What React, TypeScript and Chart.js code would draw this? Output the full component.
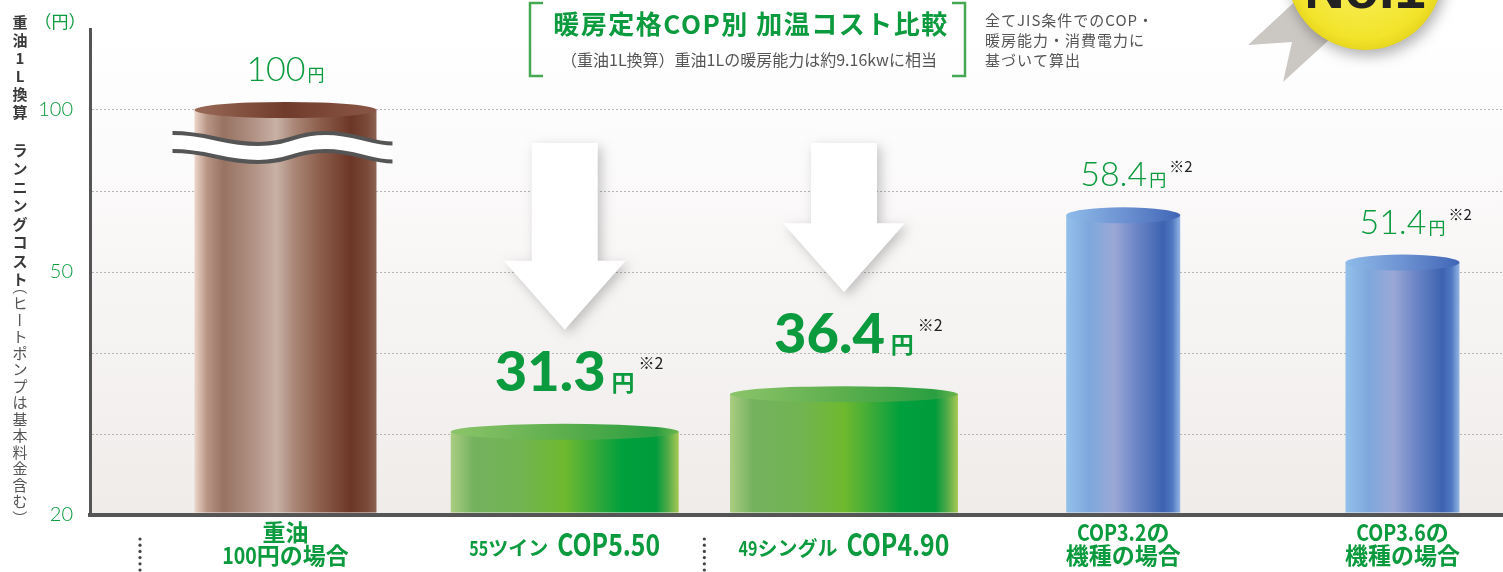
import React, { useEffect, useRef } from 'react';
import { Chart, LinearScale, registerables } from 'chart.js';

// ---------------- data ----------------
const categories = ['重油\n100円の場合', '55ツイン COP5.50', '49シングル COP4.90', 'COP3.2の\n機種の場合', 'COP3.6の\n機種の場合'];
const costs = [100, 31.3, 36.4, 58.4, 51.4];
const costNotes = ['', '※2', '※2', '※2', '※2'];
const yGridValues = [20, 31, 42, 50, 62, 100, 125];
const yTickLabels = ['20', '', '', '50', '', '100', ''];
const unitText = '円';
const yUnitLabel = '（円）';
const titleText = '暖房定格COP別 加温コスト比較';
const subtitleText = '（重油1L換算）重油1Lの暖房能力は約9.16kwに相当';
const noteLines = ['全てJIS条件でのCOP・', '暖房能力・消費電力に', '基づいて算出'];
const yTitleParts = ['重油1L換算', 'ランニングコスト', '（ヒートポンプは基本料金含む）'];
const badgeText = 'No.1';

// ---------------- styles ----------------
const GREEN = '#0b9a3d';
const JP = '"Noto Sans CJK JP"';
const barWidths = [182, 228, 228, 114, 114];
const barKinds = ['brown', 'green', 'green', 'blue', 'blue'];
const emphasis = [false, true, true, false, false];
const withArrow = [false, true, true, false, false];
const withBreak = [true, false, false, false, false];
const X_MIN = -0.7;
const X_MAX = 4.36;

const BODY: Record<string, [number, string][]> = {
  brown: [[0, '#ecd6ca'], [0.07, '#b79484'], [0.16, '#987263'], [0.3, '#ad8d7e'], [0.45, '#c8b1a5'], [0.55, '#a98676'], [0.7, '#8b5b49'], [0.86, '#6c3627'], [0.95, '#7b4b3a'], [1, '#8c6351']],
  green: [[0, '#aacd82'], [0.1, '#74b25e'], [0.3, '#71b453'], [0.5, '#6fb92f'], [0.65, '#2fa83a'], [0.75, '#00a03d'], [0.9, '#009b3c'], [0.95, '#4ea947'], [1, '#a8c955']],
  blue: [[0, '#93c0ea'], [0.2, '#7ea8dc'], [0.42, '#9aa8d6'], [0.6, '#6f88c8'], [0.85, '#3d63b0'], [0.93, '#5078c0'], [1, '#93b5e4']],
};
const CAP: Record<string, [number, string][]> = {
  brown: [[0, '#9a6a58'], [0.5, '#703b2b'], [1, '#8a5646']],
  green: [[0, '#8cc46a'], [0.5, '#5cae4c'], [0.9, '#2a9f42'], [1, '#6fb64e']],
  blue: [[0, '#8dbbe9'], [0.5, '#6e92d2'], [1, '#3f66b6']],
};

class SteppedScale extends LinearScale {
  static id = 'stepped';
  static defaults = LinearScale.defaults;
  getPixelForValue(value: number) {
    const k = yGridValues;
    const n = k.length - 1;
    let f: number;
    if (value <= k[0]) f = (value - k[0]) / (k[1] - k[0]);
    else if (value >= k[n]) f = n + (value - k[n]) / (k[n] - k[n - 1]);
    else {
      let i = 0;
      while (value > k[i + 1]) i++;
      f = i + (value - k[i]) / (k[i + 1] - k[i]);
    }
    return (this as any).getPixelForDecimal(f / n);
  }
  getValueForPixel(pixel: number) {
    const k = yGridValues;
    const n = k.length - 1;
    const f = (this as any).getDecimalForPixel(pixel) * n;
    const i = Math.max(0, Math.min(n - 1, Math.floor(f)));
    return k[i] + (f - i) * (k[i + 1] - k[i]);
  }
}

Chart.register(...registerables, SteppedScale as any);

function hGrad(ctx: CanvasRenderingContext2D, l: number, r: number, stops: [number, string][]) {
  const g = ctx.createLinearGradient(l, 0, r, 0);
  stops.forEach(([o, c]) => g.addColorStop(o, c));
  return g;
}

function drawCylinder(ctx: CanvasRenderingContext2D, x: number, top: number, base: number, w: number, kind: string) {
  const l = x - w / 2;
  const r = x + w / 2;
  ctx.fillStyle = hGrad(ctx, l, r, BODY[kind]);
  ctx.fillRect(l, top, w, base - top);
  ctx.fillStyle = hGrad(ctx, l, r, CAP[kind]);
  ctx.beginPath();
  ctx.ellipse(x, top, w / 2, 8, 0, 0, Math.PI * 2);
  ctx.fill();
}

function drawBreak(ctx: CanvasRenderingContext2D, cx: number, top: number) {
  const path = (dy: number, reverse: boolean) => {
    const p: [number, number][] = [[-113, 23], [-75, 23], [-65, 34], [-27, 34], [5, 34], [8, 23], [40, 23], [70, 23], [85, 33.5], [107, 33.5]];
    const pts = p.map(([a, b]) => [cx + a, top + b + dy] as [number, number]);
    const seq = reverse ? pts.slice().reverse() : pts;
    if (!reverse) ctx.moveTo(seq[0][0], seq[0][1]);
    else ctx.lineTo(seq[0][0], seq[0][1]);
    for (let i = 1; i < seq.length; i += 3) ctx.bezierCurveTo(seq[i][0], seq[i][1], seq[i + 1][0], seq[i + 1][1], seq[i + 2][0], seq[i + 2][1]);
  };
  ctx.fillStyle = '#ffffff';
  ctx.beginPath();
  path(0, false);
  path(18, true);
  ctx.closePath();
  ctx.fill();
  ctx.strokeStyle = '#555';
  ctx.lineWidth = 4;
  ctx.beginPath();
  path(0, false);
  ctx.stroke();
  ctx.beginPath();
  path(18, false);
  ctx.stroke();
}

function drawArrow(ctx: CanvasRenderingContext2D, cx: number, shaftTop: number, tipY: number) {
  const headTop = tipY - 69;
  ctx.save();
  ctx.shadowColor = 'rgba(0,0,0,0.22)';
  ctx.shadowBlur = 12;
  ctx.shadowOffsetX = 4;
  ctx.shadowOffsetY = 4;
  ctx.fillStyle = '#ffffff';
  ctx.beginPath();
  ctx.moveTo(cx - 33, shaftTop);
  ctx.lineTo(cx + 33, shaftTop);
  ctx.lineTo(cx + 33, headTop);
  ctx.lineTo(cx + 61, headTop);
  ctx.lineTo(cx, tipY);
  ctx.lineTo(cx - 61, headTop);
  ctx.lineTo(cx - 33, headTop);
  ctx.closePath();
  ctx.fill();
  ctx.restore();
}

function drawValueLabel(ctx: CanvasRenderingContext2D, x: number, top: number, value: number, note: string, emph: boolean) {
  const num = String(value);
  const numFont = emph ? '900 56px Lato' : '300 34px Lato';
  const unitFont = emph ? `700 23px ${JP}` : `400 17px ${JP}`;
  const gap = emph ? 6 : 2;
  const baseline = top - (emph ? 41 : 29);
  ctx.textAlign = 'left';
  ctx.textBaseline = 'alphabetic';
  ctx.font = numFont;
  const nw = ctx.measureText(num).width;
  ctx.font = unitFont;
  const uw = ctx.measureText(unitText).width;
  const total = nw + gap + uw;
  const sx = x - total / 2;
  ctx.fillStyle = GREEN;
  ctx.font = numFont;
  ctx.fillText(num, sx, baseline);
  ctx.font = unitFont;
  ctx.fillText(unitText, sx + nw + gap, baseline);
  if (note) {
    ctx.fillStyle = '#222';
    ctx.font = `400 ${emph ? 16 : 15}px ${JP}`;
    ctx.fillText(note, sx + total + (emph ? 4 : 3), baseline - (emph ? 22 : 14));
  }
}

type Piece = { text: string; size: number; latin: boolean; gapBefore: number };
function drawRich(ctx: CanvasRenderingContext2D, segs: { text: string; size: number }[], cx: number, baseline: number, gapBetween: number, sc: number) {
  const pieces: Piece[] = [];
  segs.forEach((s, si) => {
    let cur = '';
    let curLatin: boolean | null = null;
    let first = true;
    for (const ch of s.text) {
      const latin = ch.charCodeAt(0) < 0x2000;
      if (curLatin !== null && latin !== curLatin) {
        pieces.push({ text: cur, size: s.size, latin: curLatin, gapBefore: first && si > 0 ? gapBetween : 0 });
        first = false;
        cur = '';
      }
      cur += ch;
      curLatin = latin;
    }
    if (cur) pieces.push({ text: cur, size: s.size, latin: !!curLatin, gapBefore: first && si > 0 ? gapBetween : 0 });
  });
  const widths = pieces.map((p) => {
    ctx.font = `700 ${p.size}px ${JP}`;
    return ctx.measureText(p.text).width * (p.latin ? sc : 1);
  });
  const total = widths.reduce((a, b) => a + b, 0) + pieces.reduce((a, p) => a + p.gapBefore, 0);
  let px = cx - total / 2;
  ctx.fillStyle = GREEN;
  ctx.textAlign = 'left';
  ctx.textBaseline = 'alphabetic';
  pieces.forEach((p, i) => {
    px += p.gapBefore;
    ctx.font = `700 ${p.size}px ${JP}`;
    ctx.save();
    ctx.translate(px, baseline);
    ctx.scale(p.latin ? sc : 1, 1);
    ctx.fillText(p.text, 0, 0);
    ctx.restore();
    px += widths[i];
  });
}

const decorPlugin = {
  id: 'decor',
  beforeDraw(chart: any) {
    const { ctx, chartArea: a } = chart;
    const g = ctx.createLinearGradient(0, a.top, 0, a.bottom);
    g.addColorStop(0, '#ffffff');
    g.addColorStop(0.2, '#fdfcfc');
    g.addColorStop(1, '#efecea');
    ctx.save();
    ctx.fillStyle = g;
    ctx.fillRect(a.left, a.top, a.right - a.left, a.bottom - a.top);
    ctx.restore();
  },
  afterDatasetsDraw(chart: any) {
    const { ctx, chartArea: a } = chart;
    ctx.save();
    const bars: { x: number; y: number; base: number; width: number }[] = [];
    costs.forEach((_, i) => {
      const el = chart.getDatasetMeta(i).data[0];
      const p = el.getProps(['x', 'y', 'base', 'width'], true);
      bars.push(p);
      drawCylinder(ctx, p.x, p.y, Math.min(p.base, a.bottom) - 2, p.width, barKinds[i]);
    });
    bars.forEach((p, i) => {
      if (withBreak[i]) drawBreak(ctx, p.x, p.y);
    });
    bars.forEach((p, i) => {
      if (withArrow[i]) drawArrow(ctx, p.x, a.top + 114, p.y - 102);
    });
    bars.forEach((p, i) => drawValueLabel(ctx, p.x, p.y, costs[i], costNotes[i], emphasis[i]));
    ctx.restore();
  },
  afterDraw(chart: any) {
    const { ctx, chartArea: a, scales } = chart;
    ctx.save();
    // x labels
    categories.forEach((label, i) => {
      const cx = scales.x.getPixelForValue(i);
      const lines = label.split('\n');
      if (lines.length > 1) {
        drawRich(ctx, [{ text: lines[0], size: 23 }], cx, a.bottom + 26, 0, 0.85);
        drawRich(ctx, [{ text: lines[1], size: 23 }], cx, a.bottom + 49, 0, 0.85);
      } else {
        const sp = label.indexOf(' ');
        drawRich(ctx, [{ text: label.slice(0, sp), size: 20 }, { text: label.slice(sp + 1), size: 31 }], cx, a.bottom + 41, 9, 0.8);
      }
    });
    // separators
    const seps = [a.left + 50, (scales.x.getPixelForValue(1) + scales.x.getPixelForValue(2)) / 2];
    ctx.fillStyle = '#444';
    seps.forEach((sx) => {
      for (let y = a.bottom + 24; y < chart.height; y += 6.2) {
        ctx.beginPath();
        ctx.arc(sx, y, 1.6, 0, Math.PI * 2);
        ctx.fill();
      }
    });
    // y unit
    ctx.fillStyle = GREEN;
    ctx.font = `400 17px ${JP}`;
    ctx.textAlign = 'center';
    ctx.textBaseline = 'middle';
    ctx.fillText(yUnitLabel, 60, 22);
    // y title (vertical)
    const layout = [
      { start: 22, step: 18, font: `700 15px ${JP}`, color: '#3a3a3a' },
      { start: 150, step: 18.5, font: `700 15px ${JP}`, color: '#3a3a3a' },
      { start: 287, step: 16.5, font: `400 15px ${JP}`, color: '#555' },
    ];
    yTitleParts.forEach((part, pi) => {
      const L = layout[pi];
      ctx.font = L.font;
      ctx.fillStyle = L.color;
      Array.from(part).forEach((ch, ci) => {
        const y = L.start + ci * L.step;
        ctx.save();
        ctx.translate(20, y);
        if ('（）ー'.includes(ch)) ctx.rotate(Math.PI / 2);
        ctx.fillText(ch, 0, 0);
        ctx.restore();
      });
    });
    // title box
    ctx.strokeStyle = '#45a853';
    ctx.lineWidth = 2.5;
    ctx.beginPath();
    ctx.moveTo(543, 3);
    ctx.lineTo(530, 3);
    ctx.lineTo(530, 76);
    ctx.lineTo(543, 76);
    ctx.moveTo(952, 3);
    ctx.lineTo(965, 3);
    ctx.lineTo(965, 76);
    ctx.lineTo(952, 76);
    ctx.stroke();
    ctx.fillStyle = GREEN;
    ctx.font = `700 26px ${JP}`;
    (ctx as any).letterSpacing = '1.5px';
    ctx.textAlign = 'center';
    ctx.fillText(titleText, 751, 24);
    (ctx as any).letterSpacing = '0px';
    ctx.fillStyle = '#555';
    ctx.font = `400 16px ${JP}`;
    ctx.fillText(subtitleText, 749, 60);
    // note
    ctx.textAlign = 'left';
    ctx.font = `400 15px ${JP}`;
    (ctx as any).letterSpacing = '1px';
    noteLines.forEach((t, i) => ctx.fillText(t, 985, 20 + i * 20));
    (ctx as any).letterSpacing = '0px';
    // badge
    ctx.fillStyle = '#cbc7c3';
    ctx.beginPath();
    ctx.moveTo(1302, -5);
    ctx.lineTo(1248, 45);
    ctx.lineTo(1292, 42);
    ctx.lineTo(1283, 82);
    ctx.lineTo(1342, 28);
    ctx.closePath();
    ctx.fill();
    ctx.save();
    ctx.shadowColor = 'rgba(0,0,0,0.3)';
    ctx.shadowBlur = 14;
    ctx.shadowOffsetX = 3;
    ctx.shadowOffsetY = 6;
    const rg = ctx.createRadialGradient(1355, -45, 10, 1365, -28, 80);
    rg.addColorStop(0, '#fbf06a');
    rg.addColorStop(0.85, '#f2e42a');
    rg.addColorStop(1, '#e6d41c');
    ctx.fillStyle = rg;
    ctx.beginPath();
    ctx.arc(1365, -28, 78, 0, Math.PI * 2);
    ctx.fill();
    ctx.restore();
    ctx.fillStyle = '#222';
    ctx.font = '700 56px "Liberation Sans"';
    ctx.textAlign = 'center';
    ctx.textBaseline = 'alphabetic';
    ctx.fillText(badgeText, 1365, 8);
    ctx.restore();
  },
};

export default function App() {
  const ref = useRef<HTMLCanvasElement>(null);
  useEffect(() => {
    document.body.style.margin = '0';
    const datasets = costs.map((v, i) => ({
      label: categories[i],
      data: [{ x: i, y: v }],
      barThickness: barWidths[i],
      backgroundColor: 'rgba(0,0,0,0)',
      borderWidth: 0,
      grouped: false,
      base: yGridValues[0],
    }));
    const chart = new Chart(ref.current as HTMLCanvasElement, {
      type: 'bar',
      data: { datasets: datasets as any },
      options: {
        animation: false,
        responsive: false,
        layout: { padding: { top: 24, right: 0, bottom: 0, left: 0 } },
        plugins: { legend: { display: false }, tooltip: { enabled: false } },
        scales: {
          x: {
            type: 'linear',
            min: X_MIN,
            max: X_MAX,
            offset: false,
            grid: { display: false, drawTicks: false },
            border: { display: true, color: '#555', width: 4, z: 1 },
            ticks: { display: false },
            afterFit: (s: any) => {
              s.height = 57;
            },
          },
          y: {
            type: 'stepped' as any,
            min: 20,
            max: 125,
            afterBuildTicks: (s: any) => {
              s.ticks = yGridValues.map((v) => ({ value: v }));
            },
            ticks: {
              autoSkip: false,
              padding: 17,
              color: GREEN,
              font: { family: 'Lato', size: 20, weight: '300' as any },
              callback: (_v: any, i: number) => yTickLabels[i] ?? '',
            },
            grid: {
              drawTicks: false,
              lineWidth: 1,
              color: (c: any) => (c.tick && (c.tick.value === yGridValues[0] || c.tick.value === yGridValues[yGridValues.length - 1]) ? 'rgba(0,0,0,0)' : '#b5b5b5'),
            },
            border: { display: true, color: '#555', width: 3, dash: [2, 2], z: 1 },
            afterFit: (s: any) => {
              s.width = 90;
            },
          },
        },
      },
      plugins: [decorPlugin],
    } as any);
    return () => chart.destroy();
  }, []);
  return (
    <div style={{ width: 1503, height: 572 }}>
      <canvas ref={ref} width={1503} height={572} style={{ display: 'block' }} />
    </div>
  );
}
